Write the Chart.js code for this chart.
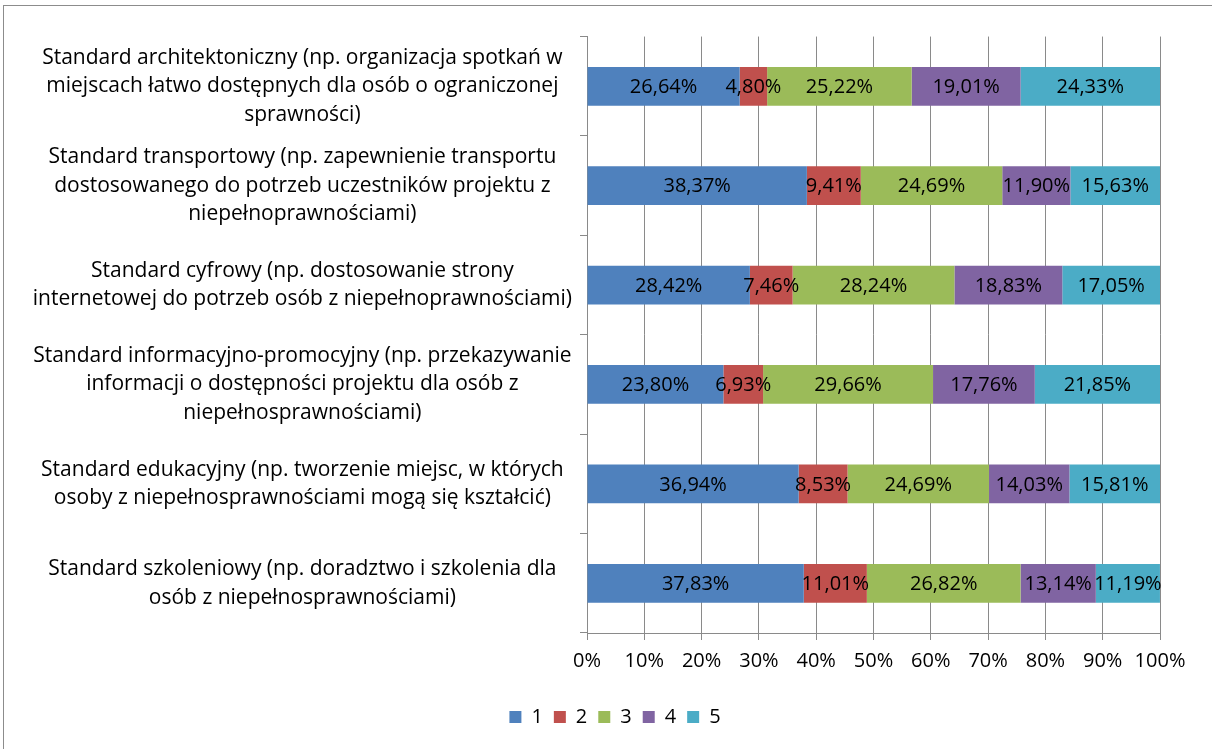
<!DOCTYPE html>
<html>
<head>
<meta charset="utf-8">
<script src="https://cdn.jsdelivr.net/npm/chart.js@4.4.1/dist/chart.umd.min.js"></script>
<style>
  html, body { margin: 0; padding: 0; background: #fff; }
  #wrap { position: relative; width: 1212px; height: 749px; overflow: hidden; }
  #frame { position: absolute; left: 3px; top: 5px; width: 1220px; height: 760px; border: 1px solid #8c8c8c; box-sizing: border-box; }
  canvas { position: absolute; left: 0; top: 0; }
</style>
</head>
<body>
<div id="wrap">
  <div id="frame"></div>
  <canvas id="chart" width="1212" height="749"></canvas>
</div>
<script>
// kategorie (oś Y)
const categories = [
  ['Standard architektoniczny (np. organizacja spotkań w', 'miejscach łatwo dostępnych dla osób o ograniczonej', 'sprawności)'],
  ['Standard transportowy (np. zapewnienie transportu', 'dostosowanego do potrzeb uczestników projektu z', 'niepełnoprawnościami)'],
  ['Standard cyfrowy (np. dostosowanie strony', 'internetowej do potrzeb osób z niepełnoprawnościami)'],
  ['Standard informacyjno-promocyjny (np. przekazywanie', 'informacji o dostępności projektu dla osób z', 'niepełnosprawnościami)'],
  ['Standard edukacyjny (np. tworzenie miejsc, w których', 'osoby z niepełnosprawnościami mogą się kształcić)'],
  ['Standard szkoleniowy (np. doradztwo i szkolenia dla', 'osób z niepełnosprawnościami)']
];

// wartości (%) dla ocen 1-5
const ocena1 = [26.64, 38.37, 28.42, 23.80, 36.94, 37.83];
const ocena2 = [4.80, 9.41, 7.46, 6.93, 8.53, 11.01];
const ocena3 = [25.22, 24.69, 28.24, 29.66, 24.69, 26.82];
const ocena4 = [19.01, 11.90, 18.83, 17.76, 14.03, 13.14];
const ocena5 = [24.33, 15.63, 17.05, 21.85, 15.81, 11.19];

const seriesNames = ['1', '2', '3', '4', '5'];
const colors = ['#4F81BD', '#C0504D', '#9BBB59', '#8064A2', '#4BACC6'];
const xTicks = [0, 10, 20, 30, 40, 50, 60, 70, 80, 90, 100];

const FONT = '"Open Sans", Lato, sans-serif';
const GRID = '#8a8a8a';

// etykiety danych na środku segmentów
const segmentLabels = {
  id: 'segmentLabels',
  afterDatasetsDraw(chart) {
    const ctx = chart.ctx;
    ctx.save();
    ctx.font = '20px ' + FONT;
    ctx.fillStyle = '#000';
    ctx.textAlign = 'center';
    ctx.textBaseline = 'middle';
    chart.data.datasets.forEach((ds, i) => {
      chart.getDatasetMeta(i).data.forEach((bar, j) => {
        const txt = ds.data[j].toFixed(2).replace('.', ',') + '%';
        ctx.fillText(txt, (bar.x + bar.base) / 2, bar.y + 1);
      });
    });
    ctx.restore();
  }
};

// legenda lekko przesunięta, jak w oryginale
const legendShift = {
  id: 'legendShift',
  afterLayout(chart) {
    chart.legend.left += 70;
  }
};

const allData = [ocena1, ocena2, ocena3, ocena4, ocena5];

new Chart(document.getElementById('chart'), {
  type: 'bar',
  data: {
    labels: categories,
    datasets: allData.map((d, i) => ({
      label: seriesNames[i],
      data: d,
      backgroundColor: colors[i],
      borderWidth: 0,
      categoryPercentage: 0.39,
      barPercentage: 1
    }))
  },
  options: {
    indexAxis: 'y',
    responsive: false,
    animation: false,
    layout: { padding: { top: 35, right: 52, bottom: 12, left: 0 } },
    plugins: {
      tooltip: { enabled: false },
      legend: {
        position: 'bottom',
        labels: {
          font: { family: FONT, size: 20 },
          color: '#000',
          boxWidth: 12,
          boxHeight: 12,
          padding: 11
        }
      }
    },
    scales: {
      x: {
        stacked: true,
        min: 0,
        max: 100,
        afterBuildTicks(scale) { scale.ticks = xTicks.map(v => ({ value: v })); },
        afterFit(scale) { scale.height += 14; },
        ticks: {
          callback: v => v + '%',
          font: { family: FONT, size: 20 },
          color: '#000',
          padding: 9,
          maxRotation: 0
        },
        grid: { color: GRID, tickLength: 7, tickColor: GRID },
        border: { color: GRID }
      },
      y: {
        stacked: true,
        afterFit(scale) { scale.width = 587; },
        ticks: {
          font: { family: FONT, size: 21, lineHeight: 1.36 },
          color: '#000',
          crossAlign: 'center',
          padding: 8
        },
        grid: { drawOnChartArea: false, tickLength: 7, color: GRID, offset: true },
        border: { color: GRID }
      }
    }
  },
  plugins: [segmentLabels, legendShift]
});
</script>
</body>
</html>
